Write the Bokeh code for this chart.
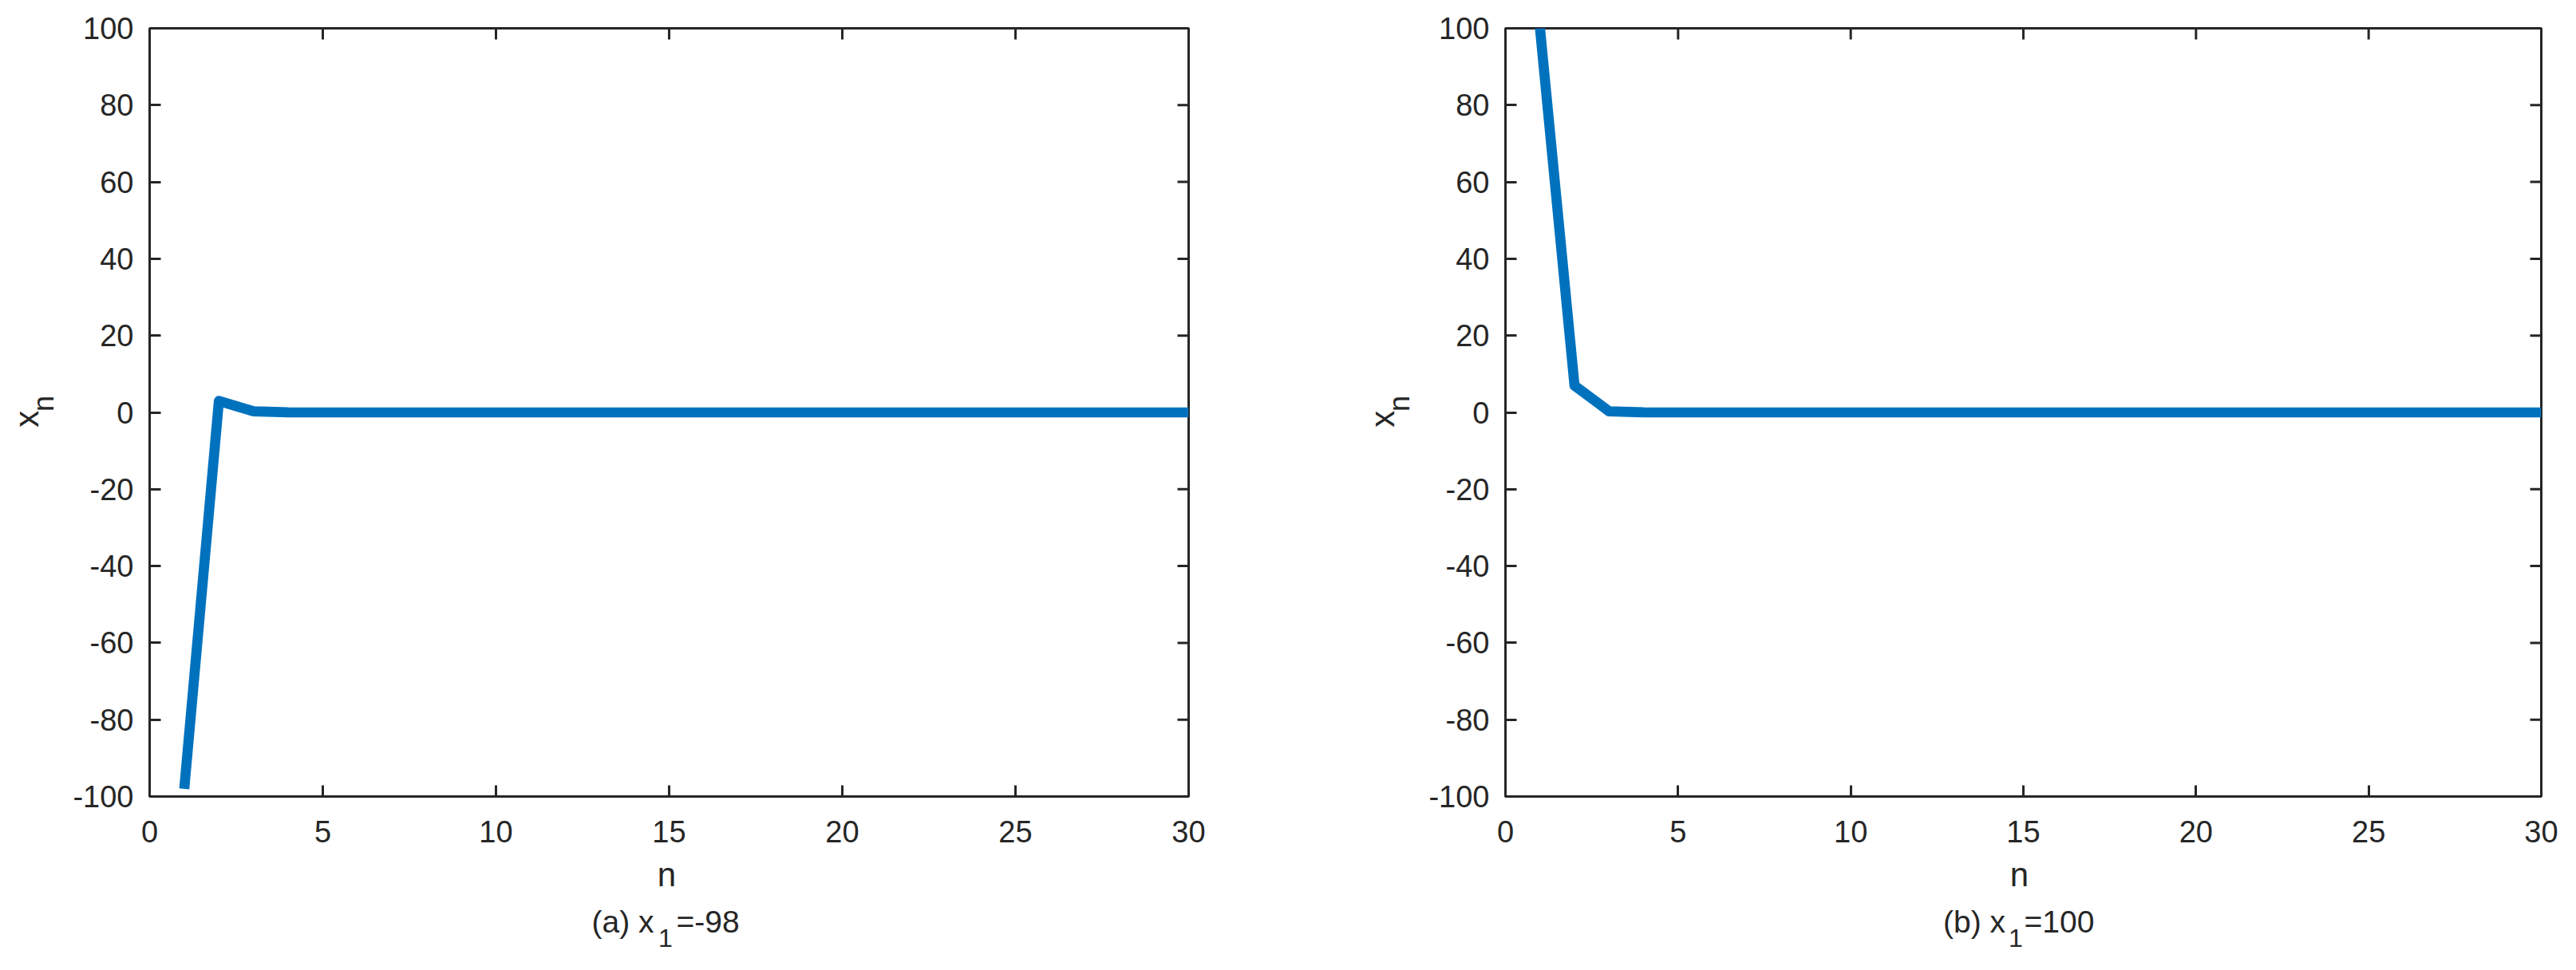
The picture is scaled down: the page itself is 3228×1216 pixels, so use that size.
from math import pi
from bokeh.plotting import figure
from bokeh.models import Range1d, LinearAxis, FixedTicker
from bokeh.core.properties import value
from bokeh.layouts import row, column
from bokeh.embed import file_html
from bokeh.resources import INLINE

# ---------------- data ----------------
n_values = [1, 2, 3, 4, 5, 6, 7, 8, 9, 10, 11, 12, 13, 14, 15,
            16, 17, 18, 19, 20, 21, 22, 23, 24, 25, 26, 27, 28, 29, 30]
xn_a = [-98, 3.0, 0.3, 0.01, 0, 0, 0, 0, 0, 0, 0, 0, 0, 0, 0,
        0, 0, 0, 0, 0, 0, 0, 0, 0, 0, 0, 0, 0, 0, 0]
xn_b = [100, 7.0, 0.3, 0.01, 0, 0, 0, 0, 0, 0, 0, 0, 0, 0, 0,
        0, 0, 0, 0, 0, 0, 0, 0, 0, 0, 0, 0, 0, 0, 0]
x_ticks = [0, 5, 10, 15, 20, 25, 30]
y_ticks = [-100, -80, -60, -40, -20, 0, 20, 40, 60, 80, 100]
x_label = "n"
y_label = ("x", "n")
captions = [("(a) x", "1", "=-98"), ("(b) x", "1", "=100")]

# ---------------- style / layout ----------------
FONT = "Liberation Sans"
AX = "#262626"
LINE = "#0072BD"
PAGE_H = 1216
AX_H = 1072          # height of the axes figures (page rows 0..1072)
CAP_H = PAGE_H - AX_H
TOP = 35
FRAME_H = 963
TICK_FS = "38px"
LABEL_FS = "42px"
CAP_FS = "39px"
SUB_FS = "32px"
DY_H = 19            # baseline correction for horizontal texts
DX_R, DY_R = 16, 18  # correction for rotated texts


def blank(width, height):
    f = figure(width=width, height=height, output_backend="svg", toolbar_location=None,
               x_range=Range1d(0, width), y_range=Range1d(0, height),
               min_border=0, x_axis_location=None, y_axis_location=None)
    f.grid.visible = False
    f.outline_line_color = None
    f.background_fill_color = "white"
    f.border_fill_color = "white"
    return f


def axes_panel(xs, ys, width, left, right):
    p = figure(width=width, height=AX_H, output_backend="svg", toolbar_location=None,
               x_range=Range1d(0, 30), y_range=Range1d(-100, 100),
               min_border_left=left, min_border_right=right,
               min_border_top=TOP, min_border_bottom=AX_H - TOP - FRAME_H,
               x_axis_location=None, y_axis_location=None)
    p.grid.visible = False
    p.background_fill_color = "white"
    p.border_fill_color = "white"
    p.outline_line_color = AX
    p.outline_line_width = 3

    def style(ax):
        ax.axis_line_color = AX
        ax.axis_line_width = 3
        ax.major_tick_line_color = AX
        ax.major_tick_line_width = 3
        ax.major_tick_in = 14
        ax.major_tick_out = 0
        ax.minor_tick_line_color = None
        ax.major_label_text_font = FONT
        ax.major_label_text_color = AX
        ax.major_label_text_font_size = TICK_FS

    xax = LinearAxis(ticker=FixedTicker(ticks=x_ticks))
    style(xax)
    xax.major_label_standoff = 30
    xax.major_label_overrides = {t: str(t) for t in x_ticks}
    p.add_layout(xax, "below")
    yax = LinearAxis(ticker=FixedTicker(ticks=y_ticks))
    style(yax)
    yax.major_label_standoff = 20
    yax.major_label_overrides = {t: str(t) for t in y_ticks}
    p.add_layout(yax, "left")

    # inward ticks on the top and right edges of the box (clipped to the frame)
    p.scatter(x=x_ticks, y=[100] * len(x_ticks), marker="dash", size=28, angle=pi / 2,
              line_color=AX, line_width=3)
    p.scatter(x=[30] * len(y_ticks), y=y_ticks, marker="dash", size=28,
              line_color=AX, line_width=3)

    p.line(xs, ys, line_width=12.7, line_color=LINE, line_join="round")
    return p


def ylabel_panel(width, page_left, base_x):
    f = blank(width, AX_H)
    main, sub = y_label
    f.text(x=[base_x - DX_R - page_left], y=[AX_H - (539 + DY_R)], text=[main],
           angle=pi / 2, text_font=value(FONT), text_font_size=LABEL_FS, text_color=AX,
           text_align="left", text_baseline="alphabetic")
    f.text(x=[base_x + 21 - DX_R - page_left], y=[AX_H - (517 + DY_R)], text=[sub],
           angle=pi / 2, text_font=value(FONT), text_font_size="36px", text_color=AX,
           text_align="left", text_baseline="alphabetic")
    return f


def caption_panel(width, page_left, xlab_cx, cap, cap_x):
    f = blank(width, CAP_H)

    def t(txt, px, py, fs, align):
        f.text(x=[px - page_left], y=[PAGE_H - (py - DY_H)], text=[txt],
               text_font=value(FONT), text_font_size=fs, text_color=AX,
               text_align=align, text_baseline="alphabetic")

    t(x_label, xlab_cx, 1115, LABEL_FS, "center")
    main, sub, rest = cap
    xa, xb, xc = cap_x
    t(main, xa, 1174, CAP_FS, "right")
    t(sub, xb, 1194, SUB_FS, "left")
    t(rest, xc, 1174, CAP_FS, "left")
    return f


# panel (a): page x 0..1690, frame 187..1489
yl_a = ylabel_panel(80, 0, 49)
ax_a = axes_panel(n_values, xn_a, 1610, 107, 201)
cap_a = caption_panel(1690, 0, 835, captions[0], (819, 824.5, 847))

# panel (b): page x 1690..3228, frame 1886..3184
yl_b = ylabel_panel(90, 1690, 1747.5)
ax_b = axes_panel(n_values, xn_b, 1448, 106, 44)
cap_b = caption_panel(1538, 1690, 2530, captions[1], (2512.5, 2516.5, 2536))

layout = column(row(yl_a, ax_a, yl_b, ax_b), row(cap_a, cap_b))
open("out.html", "w").write(file_html(layout, INLINE))
